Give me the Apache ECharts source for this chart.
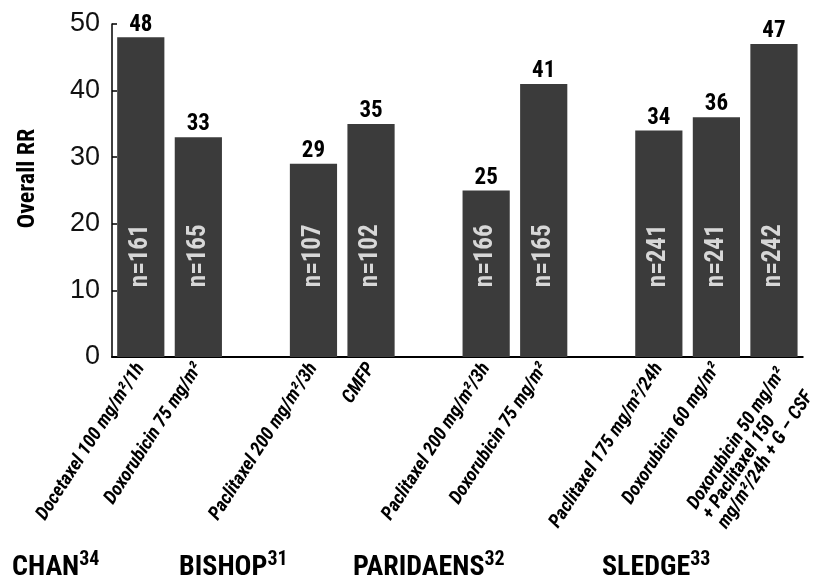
<!DOCTYPE html>
<html>
<head>
<meta charset="utf-8">
<script src="https://cdn.jsdelivr.net/npm/echarts@6/dist/echarts.min.js"></script>
<style>
html,body{margin:0;padding:0;background:#fff;}
#c{width:821px;height:578px;}
</style>
</head>
<body>
<div id="c"></div>
<script>
const categories = [
  'Docetaxel 100 mg/m²/1h',
  'Doxorubicin 75 mg/m²',
  ' ',
  'Paclitaxel 200 mg/m²/3h',
  'CMFP',
  '  ',
  'Paclitaxel 200 mg/m²/3h',
  'Doxorubicin 75 mg/m²',
  '   ',
  'Paclitaxel 175 mg/m²/24h',
  'Doxorubicin 60 mg/m²',
  'Doxorubicin 50 mg/m²\n+ Paclitaxel 150\nmg/m²/24h + G – CSF'
];
const overallRR = [48, 33, null, 29, 35, null, 25, 41, null, 34, 36, 47];
const nPatients = [161, 165, null, 107, 102, null, 166, 165, null, 241, 241, 242];
const yTicks = [0, 10, 20, 30, 40, 50];
const studies = ['CHAN', 'BISHOP', 'PARIDAENS', 'SLEDGE'];
const studyRefs = ['34', '31', '32', '33'];
const studyLabelLeft = [12, 179, 353, 602];
const nLabelY = 15.2;

const NARROW = "'Liberation Sans Narrow', 'Arial Narrow', 'Roboto Condensed', sans-serif";

const chart = echarts.init(document.getElementById('c'), null, {renderer: 'canvas'});

const xData = categories.map((c, i) => {
  if (c.indexOf('\n') >= 0) {
    return {value: c, textStyle: {verticalAlign: 'top'}};
  }
  return c;
});

const nData = [];
nPatients.forEach((n, i) => { if (n !== null) nData.push([i, nLabelY, n]); });

const option = {
  animation: false,
  backgroundColor: '#fff',
  grid: {left: 112, right: 11, top: 24, bottom: 221, containLabel: false},
  xAxis: {
    type: 'category',
    data: xData,
    boundaryGap: true,
    axisLine: {show: true, lineStyle: {color: '#000', width: 2}},
    axisTick: {show: false},
    axisLabel: {
      interval: 0,
      rotate: 57,
      margin: 8,
      color: '#000',
      fontFamily: NARROW,
      fontStyle: 'italic',
      fontWeight: 'bold',
      fontSize: 19,
      lineHeight: 18,
      formatter: function (v) {
        return v.split('\n').map(l => '{a|' + l + '}').join('\n');
      },
      rich: {a: {align: 'left', fontFamily: NARROW, fontStyle: 'italic', fontWeight: 'bold', fontSize: 19, lineHeight: 18, color: '#000'}}
    },
    splitLine: {show: false}
  },
  yAxis: {
    type: 'value',
    min: yTicks[0],
    max: yTicks[yTicks.length - 1],
    interval: yTicks[1] - yTicks[0],
    name: 'Overall RR',
    nameLocation: 'middle',
    nameGap: 72,
    nameTextStyle: {fontFamily: NARROW, fontWeight: 'bold', fontSize: 24, color: '#000', padding: [0, 0, 0, 24]},
    axisLine: {show: true, lineStyle: {color: '#000', width: 1.5}},
    axisTick: {show: true, inside: true, length: 5, lineStyle: {color: '#000', width: 1.5}},
    axisLabel: {color: '#111', fontFamily: "'Liberation Sans', Arial, sans-serif", fontSize: 27, margin: 12},
    splitLine: {show: false}
  },
  series: [
    {
      type: 'bar',
      data: overallRR,
      barWidth: '82%',
      itemStyle: {color: '#3b3b3b'},
      label: {
        show: true,
        position: 'top',
        distance: 1,
        color: '#000',
        fontFamily: NARROW,
        fontWeight: 'bold',
        fontSize: 23
      },
      z: 2
    },
    {
      type: 'scatter',
      data: nData,
      symbolSize: 0,
      silent: true,
      label: {
        show: true,
        position: 'inside',
        rotate: 90,
        color: '#fff',
        fontFamily: NARROW,
        fontWeight: 'bold',
        fontSize: 25,
        formatter: p => 'n=' + p.data[2]
      },
      z: 5
    }
  ],
  graphic: studies.map((s, i) => ({
    type: 'text',
    left: studyLabelLeft[i],
    top: 550,
    style: {
      text: '{m|' + s + '}{s|' + studyRefs[i] + '}',
      rich: {
        m: {fontFamily: NARROW, fontWeight: 'bold', fontSize: 28, fill: '#000', color: '#000', verticalAlign: 'bottom'},
        s: {fontFamily: NARROW, fontWeight: 'bold', fontSize: 20, fill: '#000', color: '#000', verticalAlign: 'top', padding: [0, 0, 12, 0]}
      }
    }
  }))
};

chart.setOption(option);
</script>
</body>
</html>
